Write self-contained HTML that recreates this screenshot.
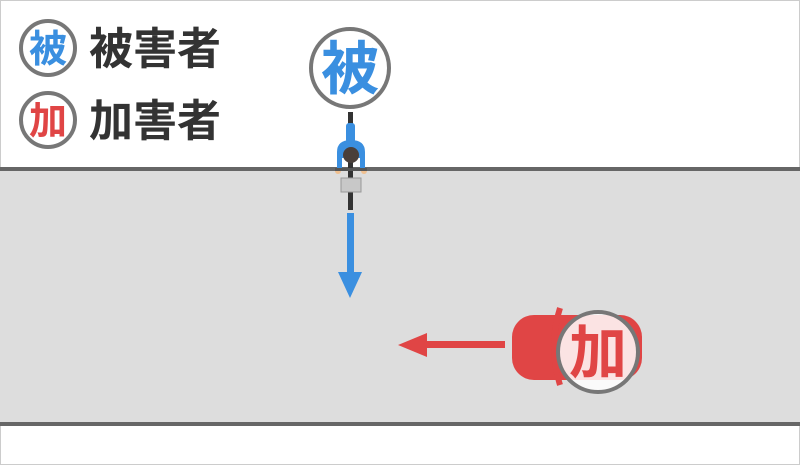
<!DOCTYPE html>
<html><head><meta charset="utf-8"><style>
body{margin:0;width:800px;height:465px;overflow:hidden;background:#fff}
</style></head><body>
<svg width="800" height="465" xmlns="http://www.w3.org/2000/svg" font-family="'Noto Sans CJK JP',sans-serif">
<rect x="0.5" y="0.5" width="799" height="464" fill="#fff" stroke="#ccc"/>
<rect x="0" y="170" width="800" height="255" fill="#dddddd"/>
<rect x="0" y="167" width="800" height="4" fill="#666"/>
<rect x="0" y="422" width="800" height="4" fill="#666"/>
<!-- legend -->
<circle cx="48" cy="48" r="27" fill="#fff" stroke="#777" stroke-width="4"/>
<text x="48" y="62" font-size="38" fill="#3a8fe0" text-anchor="middle" font-weight="bold">被</text>
<text x="89" y="64" font-size="44" fill="#333" font-weight="bold">被害者</text>
<circle cx="48" cy="120" r="27" fill="#fff" stroke="#777" stroke-width="4"/>
<text x="48" y="134" font-size="38" fill="#e04545" text-anchor="middle" font-weight="bold">加</text>
<text x="89" y="136" font-size="44" fill="#333" font-weight="bold">加害者</text>
<!-- bike -->
<rect x="348" y="112" width="5" height="98" fill="#333"/>
<rect x="346" y="123" width="9" height="20" rx="3" fill="#3a8fe0"/>
<path d="M337 170 L337 152 Q337 140 351 140 Q365 140 365 152 L365 170 L360 170 L360 158 L342 158 L342 170 Z" fill="#3a8fe0"/>
<circle cx="338" cy="171" r="3" fill="#f0c090"/><circle cx="364" cy="171" r="3" fill="#f0c090"/>
<rect x="335" y="168" width="32" height="3" fill="#555"/>
<circle cx="351" cy="155" r="8" fill="#4a3f3a"/>
<rect x="341" y="178" width="20" height="14" fill="#c8c8c8" stroke="#999"/>
<rect x="347" y="213" width="7" height="60" fill="#3a8fe0"/>
<polygon points="338,272 362,272 350,298" fill="#3a8fe0"/>
<circle cx="350" cy="68" r="39" fill="#fff" stroke="#777" stroke-width="4"/>
<text x="350" y="89" font-size="58" fill="#3a8fe0" text-anchor="middle" font-weight="bold">被</text>
<!-- car -->
<rect x="425" y="341" width="80" height="7" fill="#e04545"/>
<polygon points="398,345 427,333 427,357" fill="#e04545"/>
<rect x="512" y="315" width="130" height="65" rx="22" fill="#e04545"/>
<path d="M560 308 Q548 345 560 385" stroke="#e04545" stroke-width="6" fill="none"/>
<circle cx="598" cy="352" r="40" fill="rgba(255,255,255,0.85)" stroke="#777" stroke-width="4"/>
<text x="598" y="373" font-size="58" fill="#e04545" text-anchor="middle" font-weight="bold">加</text>
</svg>
</body></html>
